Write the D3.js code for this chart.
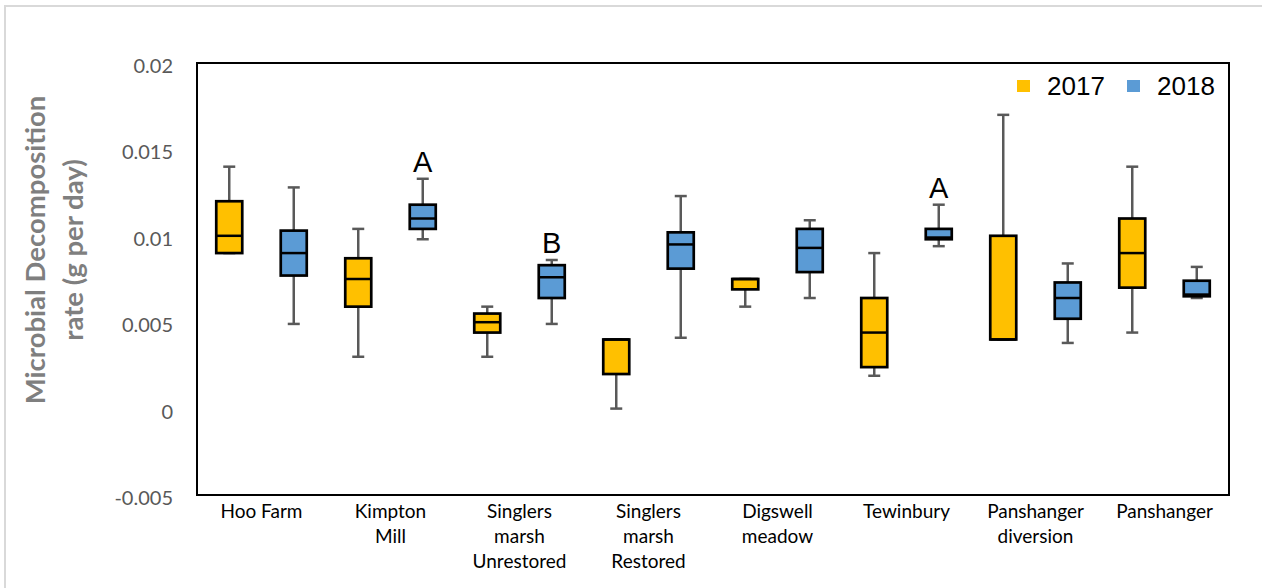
<!DOCTYPE html>
<html>
<head>
<meta charset="utf-8">
<script src="https://cdn.jsdelivr.net/npm/d3@7"></script>
<style>
  body { margin: 0; background: #fff; }
  svg { display: block; }
</style>
</head>
<body>
<svg id="chart" width="1262" height="588"></svg>
<script>
// sites along the x axis (each label split into lines)
var sites = ["Hoo Farm", "Kimpton Mill", "Singlers marsh Unrestored", "Singlers marsh Restored",
    "Digswell meadow", "Tewinbury", "Panshanger diversion", "Panshanger"];
var siteLines = [["Hoo Farm"], ["Kimpton", "Mill"], ["Singlers", "marsh", "Unrestored"],
    ["Singlers", "marsh", "Restored"], ["Digswell", "meadow"], ["Tewinbury"],
    ["Panshanger", "diversion"], ["Panshanger"]];

var years = ["2017", "2018"];

// box statistics per site, 2017
var min2017 = [0.009, 0.003, 0.003, 0.0, 0.0059, 0.0019, 0.004, 0.0044];
var q1_2017 = [0.009, 0.0059, 0.0044, 0.002, 0.0069, 0.0024, 0.004, 0.007];
var med2017 = [0.010, 0.0075, 0.005, 0.004, 0.0075, 0.0044, 0.004, 0.009];
var q3_2017 = [0.012, 0.0087, 0.0055, 0.004, 0.0075, 0.0064, 0.010, 0.011];
var max2017 = [0.014, 0.0104, 0.0059, 0.004, 0.0075, 0.009, 0.017, 0.014];

// box statistics per site, 2018
var min2018 = [0.0049, 0.0098, 0.0049, 0.0041, 0.0064, 0.0094, 0.0038, 0.0064];
var q1_2018 = [0.0077, 0.0104, 0.0064, 0.0081, 0.0079, 0.0098, 0.0052, 0.0065];
var med2018 = [0.0090, 0.0110, 0.0076, 0.0095, 0.0093, 0.0099, 0.0064, 0.0066];
var q3_2018 = [0.0103, 0.0118, 0.0083, 0.0102, 0.0104, 0.0104, 0.0073, 0.0074];
var max2018 = [0.0128, 0.0133, 0.0086, 0.0123, 0.0109, 0.0118, 0.0084, 0.0082];

var yTicks = [-0.005, 0, 0.005, 0.01, 0.015, 0.02];
var yTickLabels = ["-0.005", "0", "0.005", "0.01", "0.015", "0.02"];

// significance letters
var letterSites = ["Kimpton Mill", "Singlers marsh Unrestored", "Tewinbury"];
var letterYears = ["2018", "2018", "2018"];
var letterText = ["A", "B", "A"];

var colors = {"2017": "#FFC000", "2018": "#5B9BD5"};

var svg = d3.select("#chart");
var plot = {left: 197, right: 1229, top: 63, bottom: 495};

// outer chart-area border
svg.append("rect")
    .attr("x", 5).attr("y", 6)
    .attr("width", 1400).attr("height", 800)
    .attr("fill", "none")
    .attr("stroke", "#d9d9d9")
    .attr("stroke-width", 2);

var x = d3.scaleBand().domain(sites).range([plot.left, plot.right]).padding(0);
var sub = d3.scaleBand().domain(years).range([0, x.bandwidth()]).paddingInner(0.5).paddingOuter(0.25);
var y = d3.scaleLinear().domain([-0.005, 0.02]).range([plot.bottom, plot.top]);

var boxW = 26, capW = 12;

// y tick labels (no gridlines)
svg.append("g").selectAll("text")
    .data(yTicks)
    .enter().append("text")
    .attr("x", plot.left - 24)
    .attr("y", d => y(d) + 2)
    .attr("text-anchor", "end")
    .attr("dominant-baseline", "central")
    .style("font-family", "Lato, 'Open Sans', sans-serif")
    .style("font-size", "20px")
    .attr("fill", "#595959")
    .text((d, i) => yTickLabels[i]);

// axis title
var title = svg.append("text")
    .attr("transform", "translate(0,250) rotate(-90)")
    .attr("text-anchor", "middle")
    .style("font-family", "Lato, 'Open Sans', sans-serif")
    .style("font-size", "27.5px")
    .style("font-weight", "bold")
    .attr("fill", "#7f7f7f");
title.append("tspan").attr("x", 0).attr("y", 45).text("Microbial Decomposition");
title.append("tspan").attr("x", 0).attr("y", 83).text("rate (g per day)");

// build box records
var stats = {
    "2017": [min2017, q1_2017, med2017, q3_2017, max2017],
    "2018": [min2018, q1_2018, med2018, q3_2018, max2018]
};
var boxes = [];
sites.forEach(function (s, i) {
    years.forEach(function (yr) {
        var st = stats[yr];
        boxes.push({site: s, year: yr, min: st[0][i], q1: st[1][i], med: st[2][i], q3: st[3][i], max: st[4][i]});
    });
});

var g = svg.append("g");
var bx = g.selectAll("g.box")
    .data(boxes)
    .enter().append("g")
    .attr("class", "box")
    .attr("transform", d => "translate(" + (x(d.site) + sub(d.year) + sub.bandwidth() / 2) + ",0)");

// whiskers
bx.append("line")
    .attr("x1", 0).attr("x2", 0)
    .attr("y1", d => y(d.max)).attr("y2", d => y(d.min))
    .attr("stroke", "#595959").attr("stroke-width", 2.5);
bx.append("line")
    .attr("x1", -capW / 2).attr("x2", capW / 2)
    .attr("y1", d => y(d.max)).attr("y2", d => y(d.max))
    .attr("stroke", "#595959").attr("stroke-width", 2.5);
bx.append("line")
    .attr("x1", -capW / 2).attr("x2", capW / 2)
    .attr("y1", d => y(d.min)).attr("y2", d => y(d.min))
    .attr("stroke", "#595959").attr("stroke-width", 2.5);

// boxes
bx.append("rect")
    .attr("x", -boxW / 2)
    .attr("width", boxW)
    .attr("y", d => y(d.q3))
    .attr("height", d => y(d.q1) - y(d.q3))
    .attr("fill", d => colors[d.year])
    .attr("stroke", "#000").attr("stroke-width", 2.7);

// medians
bx.append("line")
    .attr("x1", -boxW / 2).attr("x2", boxW / 2)
    .attr("y1", d => y(d.med)).attr("y2", d => y(d.med))
    .attr("stroke", "#000").attr("stroke-width", 2.5);

// letters
letterText.forEach(function (t, i) {
    var b = boxes.find(d => d.site === letterSites[i] && d.year === letterYears[i]);
    svg.append("text")
        .attr("x", x(b.site) + sub(b.year) + sub.bandwidth() / 2)
        .attr("y", y(b.max) - 7)
        .attr("text-anchor", "middle")
        .style("font-family", "'Liberation Sans', Arial, sans-serif")
        .style("font-size", "29px")
        .attr("fill", "#000")
        .text(t);
});

// plot frame
svg.append("rect")
    .attr("x", plot.left).attr("y", plot.top)
    .attr("width", plot.right - plot.left)
    .attr("height", plot.bottom - plot.top)
    .attr("fill", "none")
    .attr("stroke", "#000").attr("stroke-width", 2);

// x labels
var xl = svg.append("g").selectAll("text")
    .data(sites)
    .enter().append("text")
    .attr("text-anchor", "middle")
    .style("font-family", "Lato, 'Open Sans', sans-serif")
    .style("font-size", "19px")
    .attr("fill", "#000");
xl.each(function (d, i) {
    var el = d3.select(this);
    siteLines[i].forEach(function (ln, k) {
        el.append("tspan")
            .attr("x", x(d) + x.bandwidth() / 2)
            .attr("y", 518 + k * 25)
            .text(ln);
    });
});

// legend
var legX = [1017, 1127];
var leg = svg.append("g").selectAll("g")
    .data(years)
    .enter().append("g")
    .attr("transform", (d, i) => "translate(" + legX[i] + ",80)");
leg.append("rect")
    .attr("width", 13).attr("height", 12)
    .attr("fill", d => colors[d]);
leg.append("text")
    .attr("x", 30).attr("y", 15)
    .style("font-family", "'Liberation Sans', Arial, sans-serif")
    .style("font-size", "26px")
    .attr("fill", "#000")
    .text(d => d);
</script>
</body>
</html>
